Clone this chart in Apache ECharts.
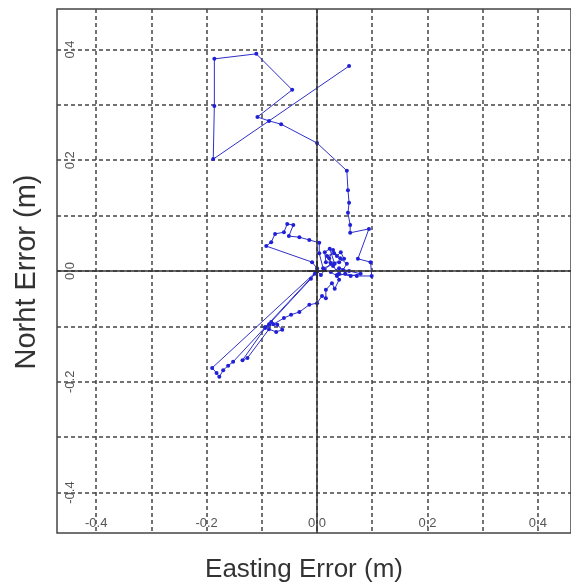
<!DOCTYPE html>
<html lang="en">
<head>
    <meta charset="UTF-8">
    <title>Position error</title>
    <style>
        html, body { margin: 0; padding: 0; background: #fff; }
        #chart { width: 571px; height: 586px; }
    </style>
</head>
<body>
<div id="chart"></div>

<script src="https://cdn.jsdelivr.net/npm/echarts@6/dist/echarts.min.js"></script>
<script>
// grid lines every 0.1 m, labels every 0.2 m
var gridValues = [-0.4, -0.3, -0.2, -0.1, 0, 0.1, 0.2, 0.3, 0.4];
var labelValues = [-0.4, -0.2, 0, 0.2, 0.4];

// easting / northing error (m)
var easting = [
    0.058, -0.188, -0.186, -0.186, -0.110, -0.045, -0.108, -0.087, -0.065, 0.000,
    0.054, 0.056, 0.058, 0.056, 0.060, 0.060, 0.094, 0.074, 0.097, 0.099,
    0.072, 0.051, 0.036, 0.025, 0.040, 0.058, 0.079, 0.061, 0.040, 0.029,
    0.022, 0.029, 0.036, 0.043, 0.049, 0.040, 0.016, 0.014, 0.023, 0.032,
    0.011, 0.004, 0.004, -0.014, -0.032, -0.051, -0.043, -0.054, -0.060, -0.076,
    -0.083, -0.092, -0.009, 0.000, 0.000, -0.190, -0.182, -0.177, -0.170, -0.161,
    -0.152, -0.004, -0.011, -0.087, -0.094, -0.083, -0.072, -0.063, -0.074, -0.087,
    -0.126, -0.135, -0.094, -0.079, -0.060, -0.047, -0.032, -0.014, 0.000, 0.009,
    0.016, 0.016, 0.027, 0.032, 0.040, 0.036, 0.047, 0.054, 0.042, 0.031,
    0.018, 0.025, 0.014, 0.007, 0.000
];
var northing = [
    0.370, 0.202, 0.298, 0.383, 0.392, 0.327, 0.278, 0.271, 0.265, 0.231,
    0.181, 0.146, 0.123, 0.105, 0.083, 0.069, 0.076, 0.022, 0.016, -0.009,
    -0.009, -0.005, -0.009, -0.002, 0.005, 0.000, -0.005, -0.009, -0.005, 0.009,
    0.023, 0.038, 0.027, 0.034, 0.022, 0.016, 0.016, 0.034, 0.040, 0.013,
    0.005, 0.032, 0.051, 0.056, 0.061, 0.063, 0.083, 0.085, 0.070, 0.067,
    0.052, 0.045, 0.016, 0.005, 0.000, -0.175, -0.184, -0.191, -0.179, -0.171,
    -0.164, -0.005, -0.014, -0.096, -0.101, -0.092, -0.097, -0.106, -0.110, -0.105,
    -0.157, -0.161, -0.103, -0.096, -0.085, -0.079, -0.074, -0.061, -0.058, -0.045,
    -0.049, -0.034, -0.022, -0.032, -0.016, -0.007, 0.002, 0.013, 0.023, 0.032,
    0.027, 0.014, 0.002, -0.007, 0.000
];

var track = easting.map(function (e, i) { return [e, northing[i]]; });

var chart = echarts.init(document.getElementById('chart'));

var option = {
    backgroundColor: '#fff',
    animation: false,
    textStyle: { fontFamily: 'Liberation Sans, Arial, sans-serif' },
    grid: {
        show: true,
        left: 57,
        right: -2,
        top: 9,
        bottom: 53,
        borderColor: '#444',
        borderWidth: 1.5,
        backgroundColor: '#fff'
    },
    xAxis: {
        type: 'value',
        min: -0.471,
        max: 0.46,
        axisLine: { show: false },
        axisTick: { show: false, customValues: gridValues },
        axisLabel: {
            inside: true,
            margin: 3,
            color: '#555',
            fontSize: 13,
            customValues: labelValues,
            formatter: function (v) { return v.toFixed(1); }
        },
        splitLine: {
            show: true,
            lineStyle: { color: '#444', width: 1.5, type: [4, 3] }
        }
    },
    yAxis: {
        type: 'value',
        min: -0.473,
        max: 0.473,
        axisLine: { show: false },
        axisTick: { show: false, customValues: gridValues },
        axisLabel: {
            inside: true,
            rotate: 90,
            margin: 7,
            color: '#555',
            fontSize: 13,
            customValues: labelValues,
            formatter: function (v) { return v.toFixed(1); }
        },
        splitLine: {
            show: true,
            lineStyle: { color: '#444', width: 1.5, type: [4, 3] }
        }
    },
    graphic: [
        {
            type: 'text',
            x: 27,
            y: 272,
            rotation: Math.PI / 2,
            style: {
                text: 'Norht Error (m)',
                fill: '#333',
                font: '29px "Liberation Sans", Arial, sans-serif',
                textAlign: 'center',
                textVerticalAlign: 'middle'
            }
        },
        {
            type: 'text',
            x: 304,
            y: 570,
            style: {
                text: 'Easting Error (m)',
                fill: '#333',
                font: '26px "Liberation Sans", Arial, sans-serif',
                textAlign: 'center',
                textVerticalAlign: 'middle'
            }
        }
    ],
    series: [
        {
            name: 'track',
            type: 'line',
            data: track,
            symbol: 'circle',
            symbolSize: 4,
            showAllSymbol: true,
            lineStyle: { color: '#3030c8', width: 1 },
            itemStyle: { color: '#2020d8' },
            z: 3,
            markLine: {
                silent: true,
                symbol: 'none',
                label: { show: false },
                lineStyle: { color: '#333', width: 1.5, type: 'solid' },
                data: [{ xAxis: 0 }, { yAxis: 0 }]
            }
        },
        {
            name: 'origin',
            type: 'scatter',
            data: [[0, 0]],
            symbol: 'path://M0,9 L20,9 L20,11 L0,11 Z M9,0 L11,0 L11,20 L9,20 Z',
            symbolSize: 20,
            itemStyle: { color: '#111' },
            z: 4
        }
    ]
};

chart.setOption(option);
</script>
</body>
</html>
